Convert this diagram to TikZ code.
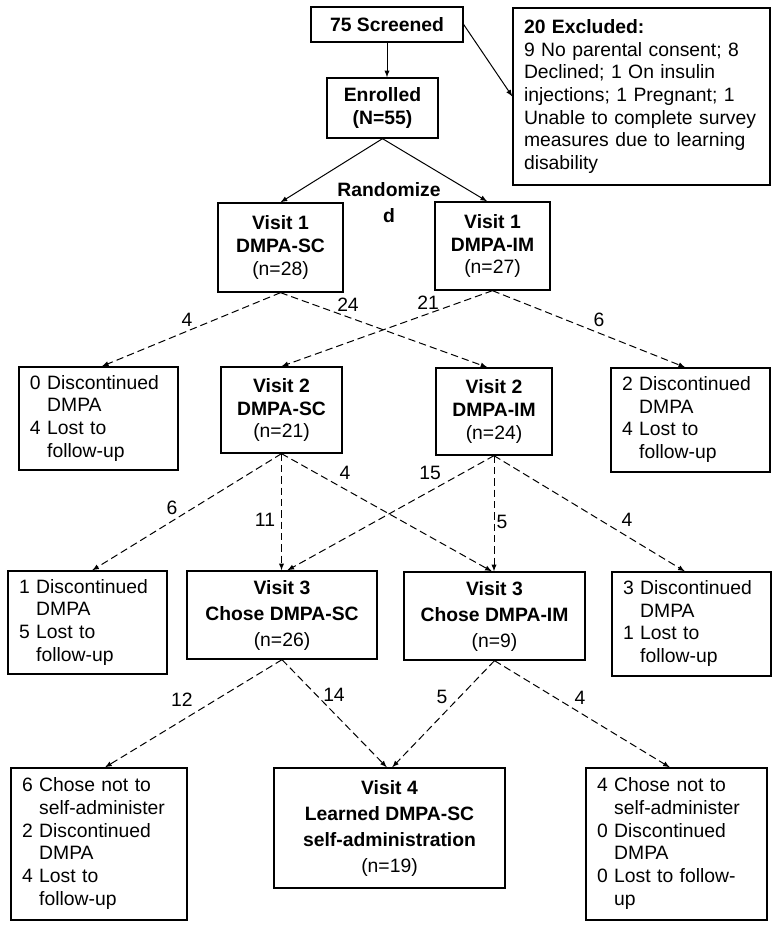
\documentclass[tikz,border=0pt]{standalone}
\usepackage{fontspec}
\setmainfont{Liberation Sans}
% Ligne d'une liste : numero, texte, puis suite en retrait
\newcommand{\elem}[3]{#1 & #2\\ & #3\\}
\begin{document}
\begin{tikzpicture}[x=0.75pt,y=-0.75pt,font=\fontsize{14.5}{17}\selectfont]
% Styles
\tikzstyle{boite}=[draw,line width=1pt,inner sep=0pt,align=center]
\tikzstyle{liste}=[draw,line width=1pt,inner xsep=8.25pt,inner ysep=0pt,align=left]
\tikzstyle{fleche}=[->,>=latex,line width=0.75pt]
\tikzstyle{pointille}=[fleche,dash pattern=on 5.5pt off 3pt]
\tikzstyle{ecart}=[font=\fontsize{14.5}{19.5}\selectfont]
% Cadre de l'image
\useasboundingbox (0,0) rectangle (779,929);
% Inclusion
\node[boite,minimum width=114pt,minimum height=26.25pt] (scr) at (387,24.5) {\textbf{75 Screened}};
\node[boite,minimum width=83.25pt,minimum height=45pt] (enr) at (382.5,108) {\textbf{Enrolled}\\\textbf{(N=55)}};
\node[liste,text width=176.25pt,minimum height=132.75pt] (exc) at (641.5,96.5) {\textbf{20 Excluded:}\\9 No parental consent; 8\\Declined; 1 On insulin\\injections; 1 Pregnant; 1\\Unable to complete survey\\measures due to learning\\disability};
\node[align=center,font=\fontsize{14.5}{19.5}\selectfont\bfseries] (rand) at (389,203) {Randomize\\d};
% Visite 1
\node[boite,minimum width=93.75pt,minimum height=66.75pt] (v1sc) at (280.5,247.5) {\textbf{Visit 1}\\\textbf{DMPA-SC}\\(n=28)};
\node[boite,minimum width=86.25pt,minimum height=66pt] (v1im) at (492.5,246) {\textbf{Visit 1}\\\textbf{DMPA-IM}\\(n=27)};
% Visite 2
\node[liste,text width=102.75pt,minimum height=77.25pt] (out2g) at (98.5,418.5) {\noindent\begin{tabular}{@{}l@{\ }l@{}}\elem{0}{Discontinued}{DMPA}\elem{4}{Lost to}{follow-up}\end{tabular}};
\node[boite,minimum width=90.75pt,minimum height=64.5pt] (v2sc) at (281.5,410) {\textbf{Visit 2}\\\textbf{DMPA-SC}\\(n=21)};
\node[boite,minimum width=87pt,minimum height=65.25pt] (v2im) at (494,411.5) {\textbf{Visit 2}\\\textbf{DMPA-IM}\\(n=24)};
\node[liste,text width=102.75pt,minimum height=78pt] (out2d) at (690.5,420) {\noindent\begin{tabular}{@{}l@{\ }l@{}}\elem{2}{Discontinued}{DMPA}\elem{4}{Lost to}{follow-up}\end{tabular}};
% Visite 3
\node[liste,text width=102.75pt,minimum height=77.25pt] (out3g) at (87.5,622.5) {\noindent\begin{tabular}{@{}l@{\ }l@{}}\elem{1}{Discontinued}{DMPA}\elem{5}{Lost to}{follow-up}\end{tabular}};
\node[boite,ecart,minimum width=142.5pt,minimum height=66pt] (v3sc) at (282,615) {\textbf{Visit 3}\\\textbf{Chose DMPA-SC}\\(n=26)};
\node[boite,ecart,minimum width=135.75pt,minimum height=66pt] (v3im) at (494.5,616) {\textbf{Visit 3}\\\textbf{Chose DMPA-IM}\\(n=9)};
\node[liste,text width=102.75pt,minimum height=78pt] (out3d) at (691.5,624) {\noindent\begin{tabular}{@{}l@{\ }l@{}}\elem{3}{Discontinued}{DMPA}\elem{1}{Lost to}{follow-up}\end{tabular}};
% Visite 4
\node[liste,text width=115.5pt,minimum height=114pt] (out4g) at (99,844) {\noindent\begin{tabular}{@{}l@{\ }l@{}}\elem{6}{Chose not to}{self-administer}\elem{2}{Discontinued}{DMPA}\elem{4}{Lost to}{follow-up}\end{tabular}};
\node[boite,ecart,minimum width=173.25pt,minimum height=90pt] (v4) at (389.5,828) {\textbf{Visit 4}\\\textbf{Learned DMPA-SC}\\\textbf{self-administration}\\(n=19)};
\node[liste,text width=119.25pt,minimum height=114pt] (out4d) at (676.5,844) {\noindent\begin{tabular}{@{}l@{\ }l@{}}\elem{4}{Chose not to}{self-administer}\elem{0}{Discontinued}{DMPA}\elem{0}{Lost to follow-}{up}\end{tabular}};
% Fleches pleines
\draw[fleche] (scr.south) -- (scr.south |- enr.north);
\draw[fleche] (scr.east) -- (exc.west);
\draw[fleche] (enr.south) -- (v1sc.north);
\draw[fleche] (enr.south) -- ([xshift=-4pt]v1im.north);
% Fleches pointillees
\draw[pointille] (v1sc.south) -- ([xshift=2.5pt]out2g.north);
\draw[pointille] (v1sc.south) -- ([xshift=-5pt]v2im.north);
\draw[pointille] (v1im.south) -- (v2sc.north);
\draw[pointille] (v1im.south) -- ([xshift=-4pt]out2d.north);
\draw[pointille] (v2sc.south) -- ([xshift=3.5pt]out3g.north);
\draw[pointille] (v2sc.south) -- (v2sc.south |- v3sc.north);
\draw[pointille] (v2sc.south) -- ([xshift=-2pt]v3im.north);
\draw[pointille] (v2im.south) -- ([xshift=4pt]v3sc.north);
\draw[pointille] (v2im.south) -- (v2im.south |- v3im.north);
\draw[pointille] (v2im.south) -- ([xshift=-5pt]out3d.north);
\draw[pointille] (v3sc.south) -- ([xshift=4.5pt]out4g.north);
\draw[pointille] (v3sc.south) -- ([xshift=-2pt]v4.north);
\draw[pointille] (v3im.south) -- ([xshift=2pt]v4.north);
\draw[pointille] (v3im.south) -- ([xshift=-5pt]out4d.north);
% Effectifs
\node (e1a) at (187,320) {4};
\node (e1b) at (348,305) {24};
\node (e1c) at (428,303) {21};
\node (e1d) at (599,320) {6};
\node (e2a) at (172,508) {6};
\node (e2b) at (265,520) {11};
\node (e2c) at (345,473) {4};
\node (e2d) at (430,473) {15};
\node (e2e) at (502,522) {5};
\node (e2f) at (627,520) {4};
\node (e3a) at (182,700) {12};
\node (e3b) at (334,695) {14};
\node (e3c) at (442,697) {5};
\node (e3d) at (580,698) {4};
\end{tikzpicture}
\end{document}
